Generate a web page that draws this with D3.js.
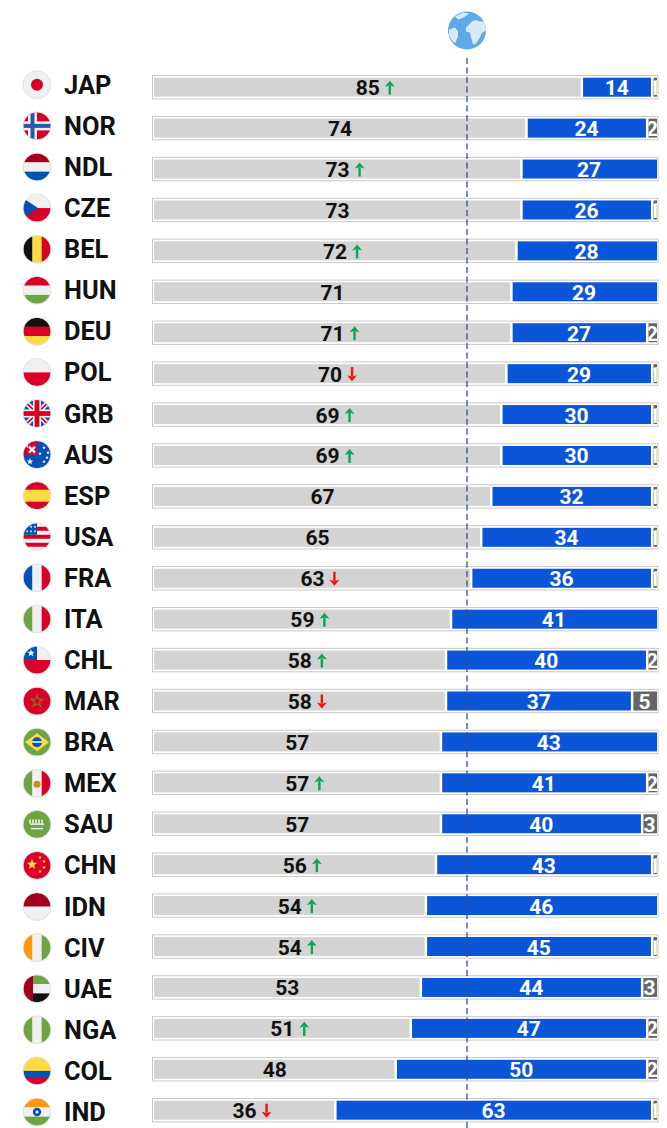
<!DOCTYPE html>
<html><head><meta charset="utf-8">
<script src="https://cdn.jsdelivr.net/npm/d3@7"></script>
<style>html,body{margin:0;padding:0;background:#fff}svg{display:block}text{font-family:Roboto,sans-serif;font-weight:700}</style>
</head><body><div id="chart"></div>
<script>
const codes=["JAP","NOR","NDL","CZE","BEL","HUN","DEU","POL","GRB","AUS","ESP","USA","FRA","ITA","CHL","MAR","BRA","MEX","SAU","CHN","IDN","CIV","UAE","NGA","COL","IND"];
const grayValues=[85,74,73,73,72,71,71,70,69,69,67,65,63,59,58,58,57,57,57,56,54,54,53,51,48,36];
const blueValues=[14,24,27,26,28,29,27,29,30,30,32,34,36,41,40,37,43,41,40,43,46,45,44,47,50,63];
const otherValues=[1,2,0,1,0,0,2,1,1,1,1,1,1,0,2,5,0,2,3,1,0,1,3,2,2,1];
const trends=[1,0,1,0,1,0,1,-1,1,1,0,0,-1,1,1,-1,0,1,0,1,1,1,0,1,0,-1];
const W=667,H=1128;
const svg=d3.select("#chart").append("svg").attr("width",W).attr("height",H);
const defs=svg.append("defs");
const x=d3.scaleLinear().domain([0,100]).range([154,657]);
const y=d3.scalePoint().domain(codes).range([87.2,1110.2]);
const yLabel=d3.scalePoint().domain(codes).range([84.8,1112]);
const bh=19;
const R="#d80027",DR="#a2001d",B="#0052b4",Wh="#f0f0f0",G="#6da544",Yl="#ffda44",O="#ff9811",K="#111";

function rect(g,x0,y0,w,h,c){g.append("rect").attr("x",x0).attr("y",y0).attr("width",w).attr("height",h).attr("fill",c);}
function hs(g,cs,ws){let t=-14;const tot=d3.sum(ws);cs.forEach((c,i)=>{const h=28*ws[i]/tot;rect(g,-14,t,28,h+.3,c);t+=h;});}
function vs(g,cs,ws){let t=-14;const tot=d3.sum(ws);cs.forEach((c,i)=>{const w=28*ws[i]/tot;rect(g,t,-14,w+.3,28,c);t+=w;});}
function star(g,cx,cy,r,c){const p=d3.range(10).map(i=>{const a=-Math.PI/2+i*Math.PI/5,q=i%2?r*.42:r;return [cx+q*Math.cos(a),cy+q*Math.sin(a)];});g.append("polygon").attr("points",p.join(" ")).attr("fill",c);}
const flags={
 JAP:g=>{rect(g,-14,-14,28,28,Wh);g.append("circle").attr("r",6).attr("fill",R);},
 NOR:g=>{rect(g,-14,-14,28,28,R);rect(g,-9,-14,9,28,Wh);rect(g,-14,-4.5,28,9,Wh);rect(g,-6.5,-14,4,28,"#2a5aa5");rect(g,-14,-2,28,4,"#2a5aa5");},
 NDL:g=>hs(g,[DR,Wh,B],[1,1,1]),
 CZE:g=>{hs(g,[Wh,R],[1,1]);g.append("path").attr("d","M-14,-10L1,0L-14,10Z").attr("fill",B);},
 BEL:g=>vs(g,[K,Yl,R],[1,1,1]),
 HUN:g=>hs(g,[R,Wh,G],[1,1,1]),
 DEU:g=>hs(g,[K,R,Yl],[1,1,1]),
 POL:g=>hs(g,[Wh,R],[1,1]),
 GRB:g=>{rect(g,-14,-14,28,28,B);g.append("path").attr("d","M-14,-14L14,14M14,-14L-14,14").attr("stroke",Wh).attr("stroke-width",5);g.append("path").attr("d","M-14,-14L14,14M14,-14L-14,14").attr("stroke",R).attr("stroke-width",1.6);rect(g,-4,-14,8,28,Wh);rect(g,-14,-4,28,8,Wh);rect(g,-2.4,-14,4.8,28,R);rect(g,-14,-2.4,28,4.8,R);},
 AUS:g=>{rect(g,-14,-14,28,28,B);rect(g,-14,-14,14,14,R);g.append("path").attr("d","M-11,-11L-1,-1").attr("stroke",Wh).attr("stroke-width",3.5);rect(g,-14,-14,14,4,R);rect(g,-9,-10,9,10,R);g.append("path").attr("d","M-8,-8L-2,-2M-2,-8L-8,-2").attr("stroke",Wh).attr("stroke-width",2.4);star(g,-7,7,3.5,Wh);[[7,-7],[11,-2],[3,-1],[7,7],[10,3]].forEach(p=>star(g,p[0],p[1],2,Wh));},
 ESP:g=>hs(g,[R,Yl,R],[1,1.5,1]),
 USA:g=>{hs(g,[Wh,R,Wh,R,Wh,R,Wh],[1,1,1,1,1,1,1]);rect(g,-14,-14,14,12,B);[-10,-5.5].forEach(a=>[-10,-6,-2].forEach(b=>star(g,b,a,1.5,Wh)));},
 FRA:g=>vs(g,[B,Wh,R],[1,1,1]),
 ITA:g=>vs(g,[G,Wh,R],[1,1,1]),
 CHL:g=>{hs(g,[Wh,R],[1,1]);rect(g,-14,-14,14,14,B);star(g,-6,-7,4,Wh);},
 MAR:g=>{rect(g,-14,-14,28,28,R);star(g,0,0,8,"#8a6d20");star(g,0,0,4.2,R);},
 BRA:g=>{rect(g,-14,-14,28,28,G);g.append("path").attr("d","M-12,0L0,-9L12,0L0,9Z").attr("fill",Yl);g.append("circle").attr("r",5).attr("fill",B);rect(g,-5,-1,10,1.6,Wh);},
 MEX:g=>{vs(g,[G,Wh,R],[1,1,1]);g.append("circle").attr("cy",1).attr("r",3.5).attr("fill","#c98a1e");},
 SAU:g=>{rect(g,-14,-14,28,28,G);g.append("path").attr("d","M-7,-5v4M-4,-5v4M-1,-5v4M2,-5v4M5,-5v4").attr("stroke",Wh).attr("stroke-width",1.6);rect(g,-7,-1,14,1.5,Wh);rect(g,-6,3.5,12,1.5,Wh);},
 CHN:g=>{rect(g,-14,-14,28,28,R);star(g,-5,-1,5.5,Yl);[[3,-8],[7,-4],[7,2],[3,6]].forEach(p=>star(g,p[0],p[1],2,Yl));},
 IDN:g=>hs(g,[DR,Wh],[1,1]),
 CIV:g=>vs(g,[O,Wh,G],[1,1,1]),
 UAE:g=>{hs(g,[G,Wh,K],[1,1,1]);rect(g,-14,-14,10,28,DR);},
 NGA:g=>vs(g,[G,Wh,G],[1,1,1]),
 COL:g=>hs(g,[Yl,B,R],[2,1,1]),
 IND:g=>{hs(g,[O,Wh,G],[1,1,1]);g.append("circle").attr("r",4.2).attr("fill",B);g.append("circle").attr("r",1.6).attr("fill",Wh);}
};
defs.append("clipPath").attr("id","flagClip").append("circle").attr("r",13.6);

codes.forEach((code,i)=>{
 const fg=svg.append("g").attr("transform",`translate(37,${yLabel(code)})`);
 flags[code](fg.append("g").attr("clip-path","url(#flagClip)"));
 fg.append("circle").attr("r",14).attr("fill","none").attr("stroke","#d9d9d9").attr("stroke-width",.8);
 svg.append("text").attr("x",64).attr("y",yLabel(code)+9).attr("font-size",25.4).attr("fill","#111").text(code);

 const g=svg.append("g").attr("transform",`translate(0,${y(code)-bh/2})`);
 g.append("rect").attr("x",152.5).attr("y",-2.2).attr("width",505.5).attr("height",bh+4.4).attr("fill","#fff").attr("stroke","#c9c9c9").attr("stroke-width",1);
 const vals=[grayValues[i],blueValues[i],otherValues[i]];
 const cols=["#d3d3d3","#0b55d8","#666666"],tc=["#111","#fff","#fff"];
 let acc=0;
 vals.forEach((v,k)=>{
  if(!v)return;
  const x0=x(acc),x1=x(acc+v);acc+=v;
  const isLast=acc>=100;
  const lx=x0+(k?1.5:0), rx=isLast?x1:x1-1;
  g.append("rect").attr("x",lx).attr("y",0).attr("width",rx-lx).attr("height",bh).attr("fill",cols[k]);
  const id=`c${i}_${k}`;
  defs.append("clipPath").attr("id",id).append("rect").attr("x",lx).attr("y",0).attr("width",rx-lx).attr("height",bh);
  g.append("text").attr("clip-path",`url(#${id})`).attr("x",(x0+x1)/2).attr("y",bh/2+8).attr("text-anchor","middle").attr("font-size",21).attr("fill",tc[k]).text(v);
  if(k===0&&trends[i]){
   const ax=(x0+x1)/2+22,c=trends[i]>0?"#0aa558":"#f01414",s=trends[i]>0?1:-1,cy=bh/2+.5;
   g.append("path").attr("d",`M${ax},${cy+7*s}V${cy-2*s}`).attr("fill","none").attr("stroke",c).attr("stroke-width",2.4);
   g.append("path").attr("d",`M${ax-5},${cy-1*s}L${ax},${cy-7*s}L${ax+5},${cy-1*s}L${ax+1.2},${cy-2*s}H${ax-1.2}Z`).attr("fill",c);
  }
 });
});
svg.append("line").attr("x1",467).attr("x2",467).attr("y1",58).attr("y2",H).attr("stroke","#33528f").attr("stroke-width",1.3).attr("stroke-dasharray","6 3.5");
defs.append("filter").attr("id","soft").append("feGaussianBlur").attr("stdDeviation",0.5);
const globe=svg.append("g").attr("transform","translate(467,30.5)").attr("filter","url(#soft)");
defs.append("clipPath").attr("id","globeClip").append("circle").attr("r",19);
globe.append("circle").attr("r",19).attr("fill","#5ea9ea");
const gc=globe.append("g").attr("clip-path","url(#globeClip)").attr("fill","#d8e9f7");
gc.append("path").attr("d","M3,-7C6,-11 10,-11 13,-9L19,-9L20,0L15,2L13,7L9,13L6,14L4,7L3,2L-1,1L-1,-3Z");
gc.append("path").attr("d","M-18,-1L-12,-3L-9,1L-9,6L-12,13L-15,10L-18,5Z");
gc.append("path").attr("d","M-12,-14L-4,-18L2,-17L-3,-13L-9,-11Z");
</script></body></html>
